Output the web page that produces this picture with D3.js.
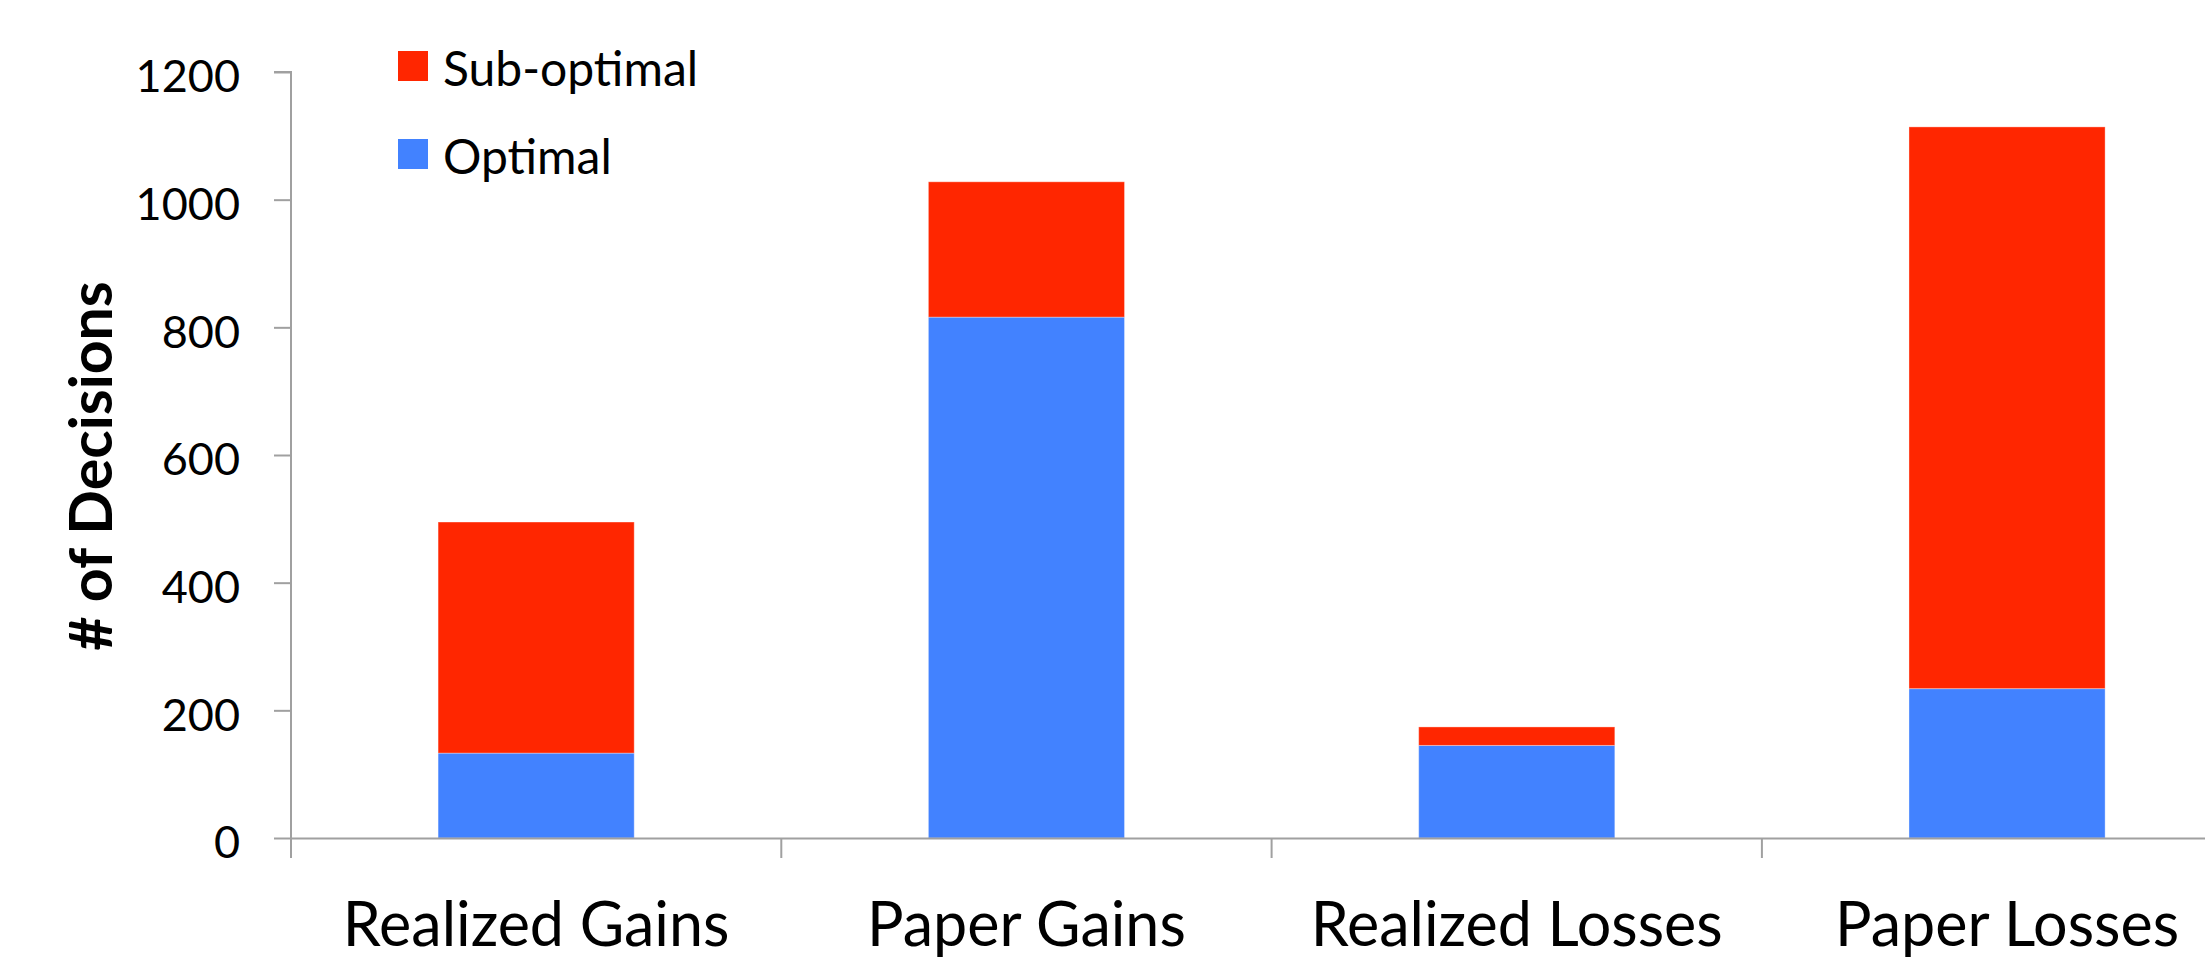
<!DOCTYPE html>
<html>
<head>
<meta charset="utf-8">
<script src="https://cdn.jsdelivr.net/npm/d3@7"></script>
<style>
  html, body { margin: 0; padding: 0; background: #ffffff; }
  svg { display: block; }
  text { font-family: Lato, "Open Sans", sans-serif; fill: #000; }
</style>
</head>
<body>
<svg id="chart" width="2205" height="958"></svg>
<script>
// Decisions by outcome category, split into optimal and sub-optimal choices
const categories = ["Realized Gains", "Paper Gains", "Realized Losses", "Paper Losses"];
const optimal    = [133, 816, 145, 234];
const subOptimal = [362, 212, 29, 880];
const seriesNames = ["Optimal", "Sub-optimal"];
const yTicks = [0, 200, 400, 600, 800, 1000, 1200];

const colors = { "Optimal": "#4282FF", "Sub-optimal": "#FF2600" };
const axisColor = "#a0a0a0";

const svg = d3.select("#chart");

const plotLeft = 291, plotBase = 838, plotTop = 72;
const step = 490.3;

const x = d3.scaleBand()
  .domain(categories)
  .range([plotLeft, plotLeft + step * categories.length])
  .paddingInner(0.6)
  .paddingOuter(0.3);

const y = d3.scaleLinear()
  .domain([0, 1200])
  .range([plotBase, plotTop]);

// stacked layout: optimal at the bottom, sub-optimal on top
const rows = categories.map((c, i) => ({ category: c, "Optimal": optimal[i], "Sub-optimal": subOptimal[i] }));
const stacked = d3.stack().keys(seriesNames)(rows);

svg.append("g")
  .selectAll("g")
  .data(stacked)
  .join("g")
  .attr("fill", d => colors[d.key])
  .selectAll("rect")
  .data(d => d)
  .join("rect")
  .attr("x", d => x(d.data.category))
  .attr("width", x.bandwidth())
  .attr("y", d => y(d[1]))
  .attr("height", d => y(d[0]) - y(d[1]))
  .attr("stroke", "rgba(255,255,255,0.35)")
  .attr("stroke-width", 1);

// y axis
const yAxis = svg.append("g")
  .attr("transform", `translate(${plotLeft},0)`)
  .call(d3.axisLeft(y).tickValues(yTicks).tickSize(17).tickPadding(34).tickFormat(d3.format("d")));
yAxis.select(".domain").attr("stroke", axisColor).attr("stroke-width", 2).attr("d", `M-17,${plotTop}H0V${plotBase}`);
yAxis.selectAll(".tick line").attr("stroke", axisColor).attr("stroke-width", 2);
yAxis.selectAll(".tick text")
  .attr("font-size", 45)
  .attr("font-family", "Lato, sans-serif")
  .attr("fill", "#000")
  .attr("dy", "0.44em");

// x axis: baseline with category labels, tick marks between categories
const xAxis = svg.append("g")
  .attr("transform", `translate(0,${plotBase})`)
  .call(d3.axisBottom(x).tickSize(0).tickPadding(0));
xAxis.select(".domain").attr("stroke", axisColor).attr("stroke-width", 2);
xAxis.selectAll(".tick text")
  .attr("font-size", 61)
  .attr("font-family", "Lato, sans-serif")
  .attr("fill", "#000")
  .attr("y", 108)
  .attr("dy", 0);

const boundaries = categories.map(c => x(c) - x.step() * x.paddingInner() / 2);
boundaries.push(x.range()[1]);
xAxis.selectAll("line.sep")
  .data(boundaries)
  .join("line")
  .attr("class", "sep")
  .attr("x1", d => d).attr("x2", d => d)
  .attr("y1", 0).attr("y2", 20)
  .attr("stroke", axisColor)
  .attr("stroke-width", 2);

// y axis title
svg.append("text")
  .attr("transform", `translate(112,466) rotate(-90)`)
  .attr("text-anchor", "middle")
  .attr("font-weight", "bold")
  .attr("font-size", 59)
  .text("# of Decisions");

// legend
const legendItems = ["Sub-optimal", "Optimal"];
const legend = svg.append("g").attr("transform", "translate(398,51)");
const li = legend.selectAll("g")
  .data(legendItems)
  .join("g")
  .attr("transform", (d, i) => `translate(0,${i * 88})`);
li.append("rect")
  .attr("width", 30).attr("height", 30)
  .attr("fill", d => colors[d]);
li.append("text")
  .attr("x", 45)
  .attr("y", 35)
  .attr("font-size", 48)
  .text(d => d);
</script>
</body>
</html>
